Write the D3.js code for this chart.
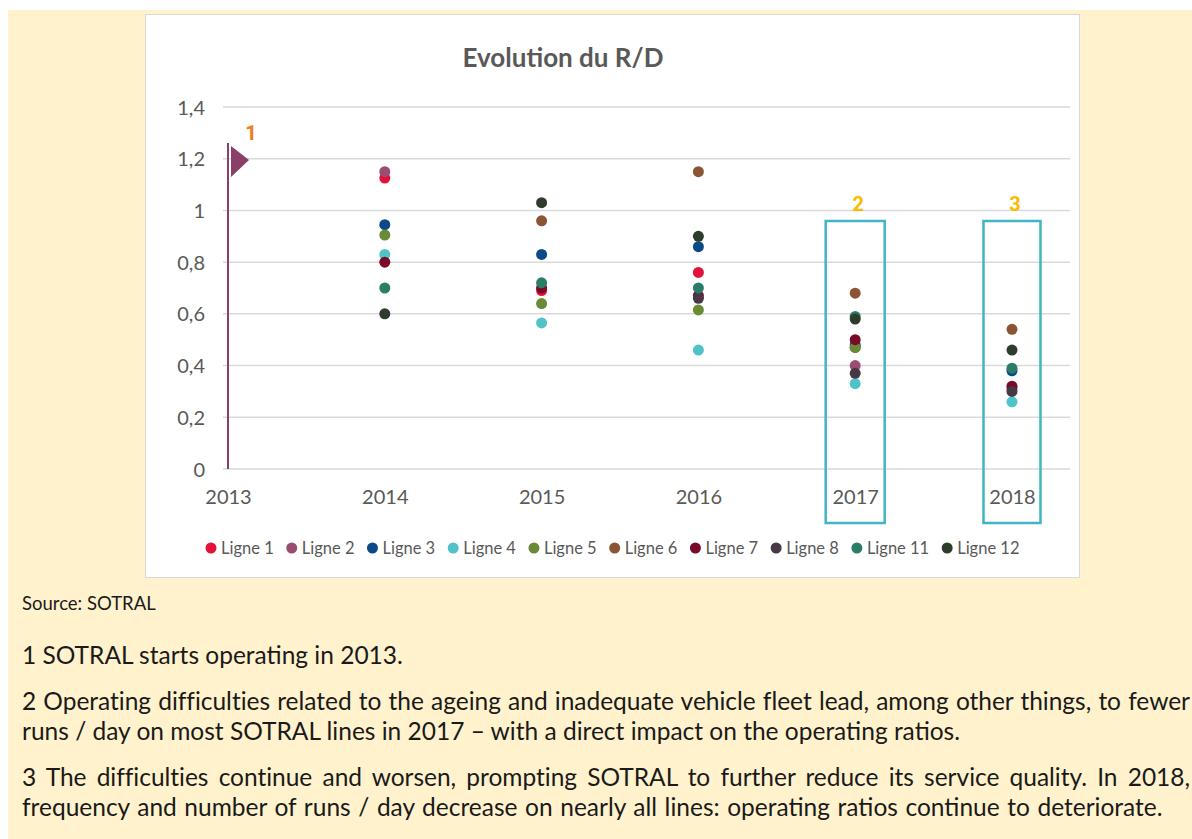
<!DOCTYPE html>
<html>
<head>
<meta charset="utf-8">
<script src="https://cdn.jsdelivr.net/npm/d3@7"></script>
<style>
  body { margin: 0; background: #fff; }
  #page { position: absolute; left: 8px; top: 10px; width: 1184px; height: 829px; background: #fff2cc; }
  #chart { position: absolute; left: 0; top: 0; }
  .note { position: absolute; left: 14px; width: 1168px; font-family: Lato, sans-serif; color: #1a1a1a; white-space: nowrap; }
  .just { text-align: justify; text-align-last: justify; }
</style>
</head>
<body>
<div id="page">
  <svg id="chart" width="1184" height="600"></svg>
  <div class="note" style="top:582px;font-size:18.5px;">Source: SOTRAL</div>
  <div class="note" style="top:630px;font-size:24.5px;line-height:30px;">1 SOTRAL starts operating in 2013.</div>
  <div class="note" style="top:676px;font-size:24.5px;line-height:30px;">
    <div class="just"><span>2 Operating difficulties related to the ageing and inadequate vehicle fleet lead, among other things, to fewer</span></div>
    <div>runs / day on most SOTRAL lines in 2017 – with a direct impact on the operating ratios.</div>
  </div>
  <div class="note" style="top:752px;font-size:24.5px;line-height:30px;">
    <div class="just"><span>3 The difficulties continue and worsen, prompting SOTRAL to further reduce its service quality. In 2018,</span></div>
    <div style="word-spacing:1.3px;">frequency and number of runs / day decrease on nearly all lines: operating ratios continue to deteriorate.</div>
  </div>
</div>
<script>
// years on the x axis, R/D values per line (null = no visible point)
const years = [2014, 2015, 2016, 2017, 2018];
const tickYears = [2013, 2014, 2015, 2016, 2017, 2018];
const yTicks = [0, 0.2, 0.4, 0.6, 0.8, 1, 1.2, 1.4];

const ligne1  = [1.125, 0.69, 0.76, 0.47, 0.31];
const ligne2  = [1.15, null, null, 0.40, null];
const ligne3  = [0.945, 0.83, 0.86, 0.48, 0.38];
const ligne4  = [0.83, 0.565, 0.46, 0.33, 0.26];
const ligne5  = [0.905, 0.64, 0.615, 0.47, null];
const ligne6  = [null, 0.96, 1.15, 0.68, 0.54];
const ligne7  = [0.80, 0.70, 0.67, 0.50, 0.32];
const ligne8  = [null, null, 0.66, 0.37, 0.30];
const ligne11 = [0.70, 0.72, 0.70, 0.59, 0.39];
const ligne12 = [0.60, 1.03, 0.90, 0.58, 0.46];

const names  = ["Ligne 1", "Ligne 2", "Ligne 3", "Ligne 4", "Ligne 5", "Ligne 6", "Ligne 7", "Ligne 8", "Ligne 11", "Ligne 12"];
const values = [ligne1, ligne2, ligne3, ligne4, ligne5, ligne6, ligne7, ligne8, ligne11, ligne12];
const colors = ["#e3123a", "#9a4d70", "#0b4a85", "#4fc3c8", "#6b8a35", "#8b5535", "#7a0a28", "#463844", "#2a7e68", "#2e3c2c"];

const series = names.map((n, i) => ({
  name: n, color: colors[i],
  points: years.map((yr, j) => ({ year: yr, value: values[i][j] })).filter(d => d.value !== null)
}));

// squeeze justified first lines if they are wider than the column
document.querySelectorAll(".just span").forEach(sp => {
  const w = sp.getBoundingClientRect().width;
  if (w > 1166) {
    sp.parentNode.style.letterSpacing = ((1166 - w) / sp.textContent.length) + "px";
  }
});

const svg = d3.select("#chart");
const font = "Lato, sans-serif";

// white chart area
svg.append("rect")
  .attr("x", 137.5).attr("y", 4.5).attr("width", 934).attr("height", 563)
  .attr("fill", "#fff").attr("stroke", "#d9d9d9");

svg.append("text")
  .attr("x", 555).attr("y", 57)
  .attr("text-anchor", "middle")
  .attr("font-family", font).attr("font-weight", "bold").attr("font-size", 26)
  .attr("fill", "#595959")
  .text("Evolution du R/D");

const x = d3.scaleLinear().domain([2013, 2018.37]).range([220, 1062]);
const y = d3.scaleLinear().domain([0, 1.4]).range([459, 97]);

// grid lines
svg.append("g")
  .selectAll("line").data(yTicks).enter()
  .append("line")
  .attr("x1", 215).attr("x2", 1062)
  .attr("y1", d => y(d)).attr("y2", d => y(d))
  .attr("stroke", "#d9d9d9").attr("stroke-width", 1.5);

const fmt = d => d3.format("~g")(d).replace(".", ",");

const yAxis = g => g
  .attr("transform", "translate(200,0)")
  .call(d3.axisLeft(y).tickValues(yTicks).tickFormat(fmt).tickSize(0))
  .call(g => g.select(".domain").remove());

const xAxis = g => g
  .attr("transform", "translate(0,479)")
  .call(d3.axisBottom(x).tickValues(tickYears).tickFormat(d3.format("d")).tickSize(0))
  .call(g => g.select(".domain").remove());

svg.append("g").call(yAxis)
  .selectAll("text").attr("font-family", font).attr("font-size", 20).attr("fill", "#595959").attr("dy", "0.35em");
svg.append("g").call(xAxis)
  .selectAll("text").attr("font-family", font).attr("font-size", 20).attr("fill", "#595959").attr("dy", "0.6em");

// points
series.forEach(s => {
  svg.append("g").attr("fill", s.color)
    .selectAll("circle").data(s.points).enter()
    .append("circle")
    .attr("cx", d => x(d.year))
    .attr("cy", d => y(d.value))
    .attr("r", 5.5);
});

// legend
const legend = svg.append("g").attr("font-family", font).attr("font-size", 16.5).attr("fill", "#595959");
let cx = 203;
names.forEach((n, i) => {
  legend.append("circle").attr("cx", cx).attr("cy", 538).attr("r", 5.5).attr("fill", colors[i]);
  const t = legend.append("text").attr("x", cx + 10).attr("y", 544).text(n);
  cx += 10 + t.node().getComputedTextLength() + 18;
});

// annotation 1: start marker at 2013
svg.append("line")
  .attr("x1", x(2013)).attr("x2", x(2013))
  .attr("y1", 133).attr("y2", y(0))
  .attr("stroke", "#8a3f69").attr("stroke-width", 2);
svg.append("path")
  .attr("d", `M${x(2013) + 3},136 L${x(2013) + 21},150 L${x(2013) + 3},167 Z`)
  .attr("fill", "#8a3f69");
svg.append("text")
  .attr("x", 243).attr("y", 130)
  .attr("text-anchor", "middle")
  .attr("font-family", "Roboto, sans-serif").attr("font-weight", "bold").attr("font-size", 21)
  .attr("fill", "#f07c1e").text("1");

// annotations 2 and 3: boxes round 2017 and 2018
const boxes = [{ year: 2017, label: "2", w: 59 }, { year: 2018, label: "3", w: 57 }];
boxes.forEach(b => {
  svg.append("rect")
    .attr("x", x(b.year) - b.w / 2).attr("y", 211)
    .attr("width", b.w).attr("height", 302)
    .attr("fill", "none").attr("stroke", "#3fb6c2").attr("stroke-width", 2.5);
  svg.append("text")
    .attr("x", x(b.year) + 3).attr("y", 201)
    .attr("text-anchor", "middle")
    .attr("font-family", "Roboto, sans-serif").attr("font-weight", "bold").attr("font-size", 20)
    .attr("fill", "#fbb900").text(b.label);
});
</script>
</body>
</html>
